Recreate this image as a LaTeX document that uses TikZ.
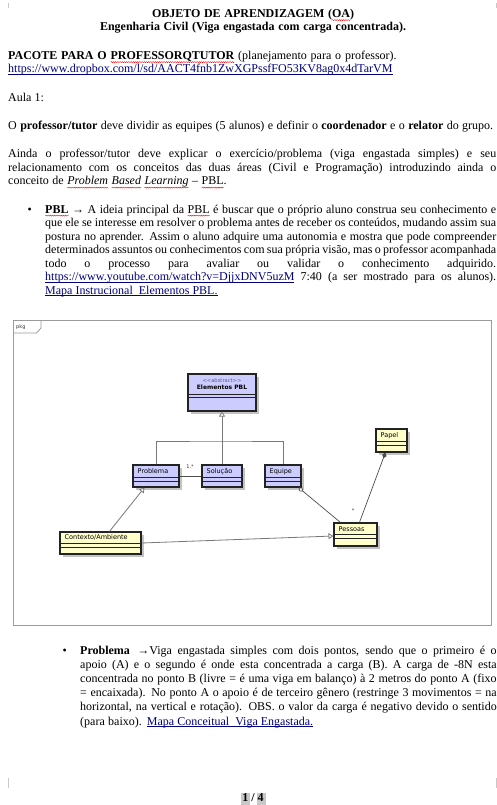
\documentclass[tikz,border=0pt]{standalone}
\usepackage{fontspec}
\setmainfont{Liberation Serif}
\newfontfamily\umlfont{DejaVu Sans}
\usepackage{graphicx}
\usetikzlibrary{arrows.meta,fit,decorations.pathmorphing}

\definecolor{linkblue}{RGB}{0,0,128}
\definecolor{umlblue}{RGB}{204,204,255}
\definecolor{umlyellow}{RGB}{255,255,204}
\definecolor{umledge}{RGB}{35,35,35}
\definecolor{framegray}{RGB}{155,155,155}
\definecolor{shadowgray}{RGB}{195,195,195}
\definecolor{linegray}{RGB}{120,120,120}
\definecolor{stereo}{RGB}{90,90,140}
\definecolor{pagegray}{RGB}{200,200,200}

% spell-check style red wave under a word
\newsavebox\wordbox
\newcommand\spell[1]{\sbox\wordbox{#1}\rlap{\tikz[overlay,x=1pt,y=1pt,baseline=0pt]\draw[red,line width=0.4pt,decorate,decoration={snake,amplitude=0.55pt,segment length=2.2pt}] (0,-2.6) -- (\the\wd\wordbox,-2.6);}\usebox\wordbox}
% underlined hyperlink text
\newsavebox\linkbox
\newcommand\link[1]{\textcolor{linkblue}{\sbox\linkbox{#1}\rlap{\rule[-1.7pt]{\wd\linkbox}{0.55pt}}\usebox\linkbox}}

% a line set to an exact width: stretched when short, squeezed when long
\newsavebox\linebox
\newlength\natw
\newcommand\jl[2]{%
  \sbox\linebox{#2}\natw=\wd\linebox
  \ifdim\natw>#1pt
    \resizebox{#1pt}{\height}{\usebox\linebox}%
  \else
    \makebox[#1pt][s]{#2}%
  \fi}

\newcommand\bodyfont{\fontsize{12}{14}\selectfont}

% UML class: name, fill, x1, y1, x2, y2, first rule, second rule, label
\newcommand\umlclass[9]{%
  \fill[shadowgray] (#3+2.5,#4+2.5) rectangle (#5+2.5,#6+2.5);
  \node[classbox, fill=#2, fit={(#3,#4) (#5,#6)}] (#1) {};
  \draw[compline] (#3,#7) -- (#5,#7) (#3,#8) -- (#5,#8);
  \node[classname] (#1-name) at (#3+4.5,{(#4+#7)/2}) {#9};}

\tikzset{
  txt/.style={anchor=base west, inner sep=0pt, font=\bodyfont},
  txtc/.style={anchor=base, inner sep=0pt, font=\bodyfont},
  classbox/.style={draw=umledge, line width=1.1pt, inner sep=0pt},
  compline/.style={draw=umledge, line width=0.7pt},
  classname/.style={anchor=west, inner sep=0pt, font=\umlfont\fontsize{6.5}{7}\selectfont, text=black},
  genline/.style={draw=linegray, line width=0.8pt},
  assocline/.style={draw=black!70, line width=0.7pt},
  gentip/.style={-{Triangle[open, length=5pt, width=6pt, fill=white]}},
  aggtip/.style={-{Diamond[open, length=6pt, width=4.5pt, fill=white]}},
  comptip/.style={-{Diamond[length=6pt, width=4.5pt]}},
  multlabel/.style={inner sep=0pt, font=\umlfont\fontsize{5}{6}\selectfont, text=black!80},
  cornermark/.style={draw=pagegray, line width=0.6pt}
}

\begin{document}
\begin{tikzpicture}[x=1pt,y=-1pt]
\useasboundingbox (0,0) rectangle (497,805);
\fill[white] (0,0) rectangle (497,805);

% page corner marks
\draw[cornermark] (8,3) -- (8,8) (496,3) -- (496,8) (8,778) -- (8,788) (496,778) -- (496,788);

% heading
\node[txtc] (title1) at (253,17.5) {\jl{202}{\bfseries OBJETO DE APRENDIZAGEM (\spell{OA})}};
\node[txtc] (title2) at (253,31) {\jl{306}{\bfseries Engenharia Civil (Viga engastada com carga concentrada).}};

\node[txt] (pac) at (8,59.5) {\jl{388.5}{\textbf{PACOTE PARA O \spell{PROFESSORQTUTOR}} (planejamento para o professor).}};
\node[txt] (url1) at (8,73) {\jl{393.5}{\link{https://www.dropbox.com/l/sd/AACT4fnb1ZwXGPssfFO53KV8ag0x4dTarVM}}};

\node[txt] (aula) at (8,101.5) {Aula 1:};
\node[txt] (par1) at (8,129.5) {\jl{485}{O \textbf{professor/tutor} deve dividir as equipes (5 alunos) e definir o \textbf{coordenador} e o \textbf{relator} do grupo.}};

\node[txt] (par2a) at (8,158) {\jl{488}{Ainda o professor/tutor deve explicar o exercício/problema (viga engastada simples) e seu}};
\node[txt] (par2b) at (8,171.5) {\jl{488}{relacionamento com os conceitos das duas áreas (Civil e Programação) introduzindo ainda o}};
\node[txt] (par2c) at (8,185) {\jl{218.5}{conceito de \textit{\spell{Problem} \spell{Based} \spell{Learning}} – \spell{PBL}.}};

% PBL item
\node[txt] (bul1) at (27.5,213) {•};
\node[txt] (pbl1) at (45,213) {\jl{451}{\textbf{\spell{PBL}} → A ideia principal da \spell{PBL} é buscar que o próprio aluno construa seu conhecimento e}};
\node[txt] (pbl2) at (45,226.5) {\jl{451}{que ele se interesse em resolver o problema antes de receber os conteúdos, mudando assim sua}};
\node[txt] (pbl3) at (45,240) {\jl{451}{postura no aprender. Assim o aluno adquire uma autonomia e mostra que pode compreender}};
\node[txt] (pbl4) at (45,253.5) {\jl{451}{determinados assuntos ou conhecimentos com sua própria visão, mas o professor acompanhada}};
\node[txt] (pbl5) at (45,267) {\jl{451}{todo o processo para avaliar ou validar o conhecimento adquirido.}};
\node[txt] (pbl6) at (45,280.5) {\jl{451}{\link{https://www.youtube.com/watch?v=DjjxDNV5uzM} 7:40 (a ser mostrado para os alunos).}};
\node[txt] (pbl7) at (45,294) {\jl{175}{\link{Mapa Instrucional\ \ Elementos PBL.}}};

% package frame
\draw[draw=framegray, line width=0.8pt] (13,320) rectangle (491,625);
\draw[draw=framegray, line width=0.8pt] (13,333) -- (36.5,333) -- (41,328) -- (41,320);
\node[multlabel, anchor=west] (pkg) at (16,327) {pkg};

% classes
\umlclass{elem}{umlblue}{188}{374}{256}{411}{394}{397}{}
\node[inner sep=0pt, font=\umlfont\fontsize{5.2}{6}\selectfont, text=stereo] (elem-st) at (222,380.5) {<<abstract>>};
\node[inner sep=0pt, font=\umlfont\bfseries\fontsize{6}{7}\selectfont] (elem-nm) at (222,387.5) {Elementos PBL};
\umlclass{prob}{umlblue}{133}{465}{179}{487}{477.5}{481.5}{Problema}
\umlclass{sol}{umlblue}{202}{465}{242}{487}{477.5}{481.5}{Solução}
\umlclass{equ}{umlblue}{265}{465}{301}{487}{477.5}{481.5}{Equipe}
\umlclass{pap}{umlyellow}{376}{429}{407}{452}{441.5}{445.5}{Papel}
\umlclass{pes}{umlyellow}{334}{523}{377}{546}{534.5}{538.5}{Pessoas}
\umlclass{ctx}{umlyellow}{60}{532}{141}{554}{543.5}{547.5}{Contexto/Ambiente}

% relations
\coordinate (bus) at (222,441);
\draw[genline] (prob.north) |- (bus) -| (equ.north);
\draw[genline, gentip] (sol.north) -- (elem.south);
\draw[assocline] (prob.east) -- (sol.west);
\node[multlabel] (mult1) at (190,467) {1.*};
\draw[genline, gentip] ([xshift=50pt]ctx.north west) -- ([xshift=12pt]prob.south west);
\draw[assocline, aggtip] ([xshift=7pt]pes.north west) -- ([xshift=-3pt]equ.south east);
\draw[assocline, comptip] ([xshift=26pt]pes.north west) -- ([xshift=10pt]pap.south west);
\node[multlabel] (mult2) at (353,511) {*};
\draw[genline, gentip] (ctx.east) -- ([yshift=-1.5pt]pes.west);

% Problema item
\node[txt] (bul2) at (62.5,654.5) {•};
\node[txt] (prb1) at (80,654.5) {\jl{416.5}{\textbf{Problema} \,→Viga engastada simples com dois pontos, sendo que o primeiro é o}};
\node[txt] (prb2) at (80,668.5) {\jl{416.5}{apoio (A) e o segundo é onde esta concentrada a carga (B). A carga de -8N esta}};
\node[txt] (prb3) at (80,682.5) {\jl{416.5}{concentrada no ponto B (livre = é uma viga em balanço) à 2 metros do ponto A (fixo}};
\node[txt] (prb4) at (80,696.5) {\jl{416.5}{= encaixada). No ponto A o apoio é de terceiro gênero (restringe 3 movimentos = na}};
\node[txt] (prb5) at (80,710.5) {\jl{416.5}{horizontal, na vertical e rotação). OBS. o valor da carga é negativo devido o sentido}};
\node[txt] (prb6) at (80,725) {\jl{233}{(para baixo). \link{Mapa Conceitual\ \ Viga Engastada.}}};

% page number
\fill[pagegray] (240.5,792.5) rectangle (249.5,805);
\fill[pagegray] (256.5,792.5) rectangle (265.5,805);
\node[txtc, font=\bfseries\bodyfont] (pageno) at (253,801.5) {1 / 4};
\end{tikzpicture}
\end{document}
